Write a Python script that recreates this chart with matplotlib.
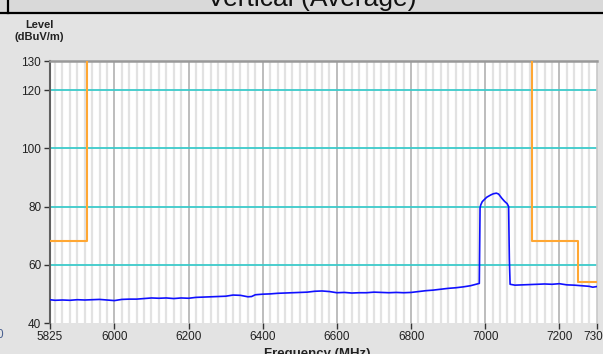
import matplotlib
matplotlib.use("Agg")
import matplotlib.pyplot as plt
from matplotlib.lines import Line2D
from matplotlib.patches import Rectangle

# measured trace (MHz, dBuV/m)
freq = [5825, 5840, 5860, 5880, 5900, 5920, 5940, 5960, 5980, 6000,
        6020, 6040, 6060, 6080, 6100, 6120, 6140, 6160, 6180, 6200,
        6220, 6240, 6260, 6280, 6300, 6320, 6340, 6360, 6370, 6380,
        6400, 6420, 6440, 6460, 6480, 6500, 6520, 6540, 6560, 6580,
        6600, 6620, 6640, 6660, 6680, 6700, 6720, 6740, 6760, 6780,
        6800, 6820, 6840, 6860, 6880, 6900, 6920, 6940, 6960, 6975,
        6984, 6986, 6988, 6992, 7004, 7015, 7022, 7030, 7036, 7045,
        7052, 7059, 7063, 7065, 7067, 7080, 7100, 7120, 7140, 7160,
        7180, 7200, 7220, 7240, 7260, 7280, 7290, 7300]
level = [48.0, 47.8, 47.9, 47.8, 48.0, 47.9, 48.0, 48.1, 47.9, 47.7,
         48.1, 48.2, 48.2, 48.4, 48.6, 48.5, 48.6, 48.4, 48.6, 48.5,
         48.8, 48.9, 49.0, 49.1, 49.2, 49.6, 49.5, 49.0, 49.1, 49.7,
         49.9, 50.0, 50.2, 50.3, 50.4, 50.5, 50.6, 50.9, 51.0, 50.8,
         50.4, 50.5, 50.3, 50.4, 50.4, 50.6, 50.5, 50.4, 50.5, 50.4,
         50.5, 50.8, 51.1, 51.3, 51.6, 51.9, 52.1, 52.4, 52.8, 53.3,
         53.6, 79.5, 80.6, 81.7, 83.2, 84.0, 84.4, 84.6, 84.3, 82.8,
         81.8, 81.0, 80.0, 62.0, 53.3, 53.0, 53.1, 53.2, 53.3, 53.4,
         53.3, 53.5, 53.1, 53.0, 52.8, 52.6, 52.3, 52.5]

# limit line
limit_freq = [5825, 5925, 5925, 7125, 7125, 7250, 7250, 7300]
limit_level = [68.2, 68.2, 140, 140, 68.2, 68.2, 54.2, 54.2]

x_ticks = [5825, 6000, 6200, 6400, 6600, 6800, 7000, 7200, 7300]
y_ticks = [40, 60, 80, 100, 120, 130]
y_grid = [60, 80, 100, 120]

W, H = 603, 354
BG = "#e3e3e3"
FONT = "Liberation Sans"

fig = plt.figure(figsize=(W / 100, H / 100), dpi=100, facecolor=BG)
plt.rcParams["font.family"] = FONT


def px(x, y):
    return x / W, 1 - y / H


# top strip with cut-off window title
fig.patches.append(Rectangle((0, 1 - 12 / H), 1, 12 / H, transform=fig.transFigure,
                             facecolor="#d9d9d9", edgecolor="none", zorder=0))
fig.lines.append(Line2D([0, 1], [1 - 12.5 / H] * 2, transform=fig.transFigure,
                        color="black", linewidth=1.6))
fig.lines.append(Line2D([7.5 / W] * 2, [1, 1 - 12.5 / H], transform=fig.transFigure,
                        color="black", linewidth=1.6))
fig.text(312 / W, 1 - 6 / H, "Vertical (Average)", ha="center", va="baseline",
         fontsize=19, color="#111111")

ax = fig.add_axes([49.5 / W, (H - 323) / H, (596.5 - 49.5) / W, (323 - 61) / H])
ax.set_facecolor("white")
ax.set_xlim(5825, 7300)
ax.set_ylim(40, 130)

# vertical grid: every 20 MHz, darker every 200 MHz
for f in range(5840, 7300, 20):
    if f % 200 == 0:
        ax.axvline(f, color="#b8b8b8", linewidth=1.3, zorder=1)
    else:
        ax.axvline(f, color="#e2e2e2", linewidth=1.6, zorder=1)
for v in y_grid:
    ax.axhline(v, color="#3ccaca", linewidth=1.3, zorder=2)

ax.plot(limit_freq, limit_level, color="#ffa733", linewidth=1.5, zorder=3)
ax.plot(freq, level, color="#1010ff", linewidth=1.2, zorder=4)

ax.set_xticks(x_ticks)
ax.set_yticks(y_ticks)
ax.tick_params(axis="both", labelsize=8.5, colors="#333333", length=4, width=1)
ax.tick_params(axis="x", pad=2)
ax.tick_params(axis="y", pad=2)
for lab in ax.get_xticklabels() + ax.get_yticklabels():
    lab.set_color("#222222")

ax.spines["left"].set_color("#606060")
ax.spines["left"].set_linewidth(1.5)
ax.spines["top"].set_color("#999999")
ax.spines["top"].set_linewidth(1.8)
ax.spines["right"].set_color("#c8c8c8")
ax.spines["right"].set_linewidth(1.2)
ax.spines["bottom"].set_visible(False)

fig.text(39 / W, 1 - 31 / H, "Level\n(dBuV/m)", ha="center", va="center",
         fontsize=8, fontweight="bold", color="#222222", linespacing=1.15)
fig.text(317 / W, 1 - 348 / H, "Frequency (MHz)", ha="center", va="top",
         fontsize=9.5, fontweight="bold", color="#222222")
fig.text(3 / W, 1 - 335 / H, "0", ha="right", va="center", fontsize=8.5,
         color="#4a6090")

fig.savefig("out.png", dpi=100, facecolor=BG)
